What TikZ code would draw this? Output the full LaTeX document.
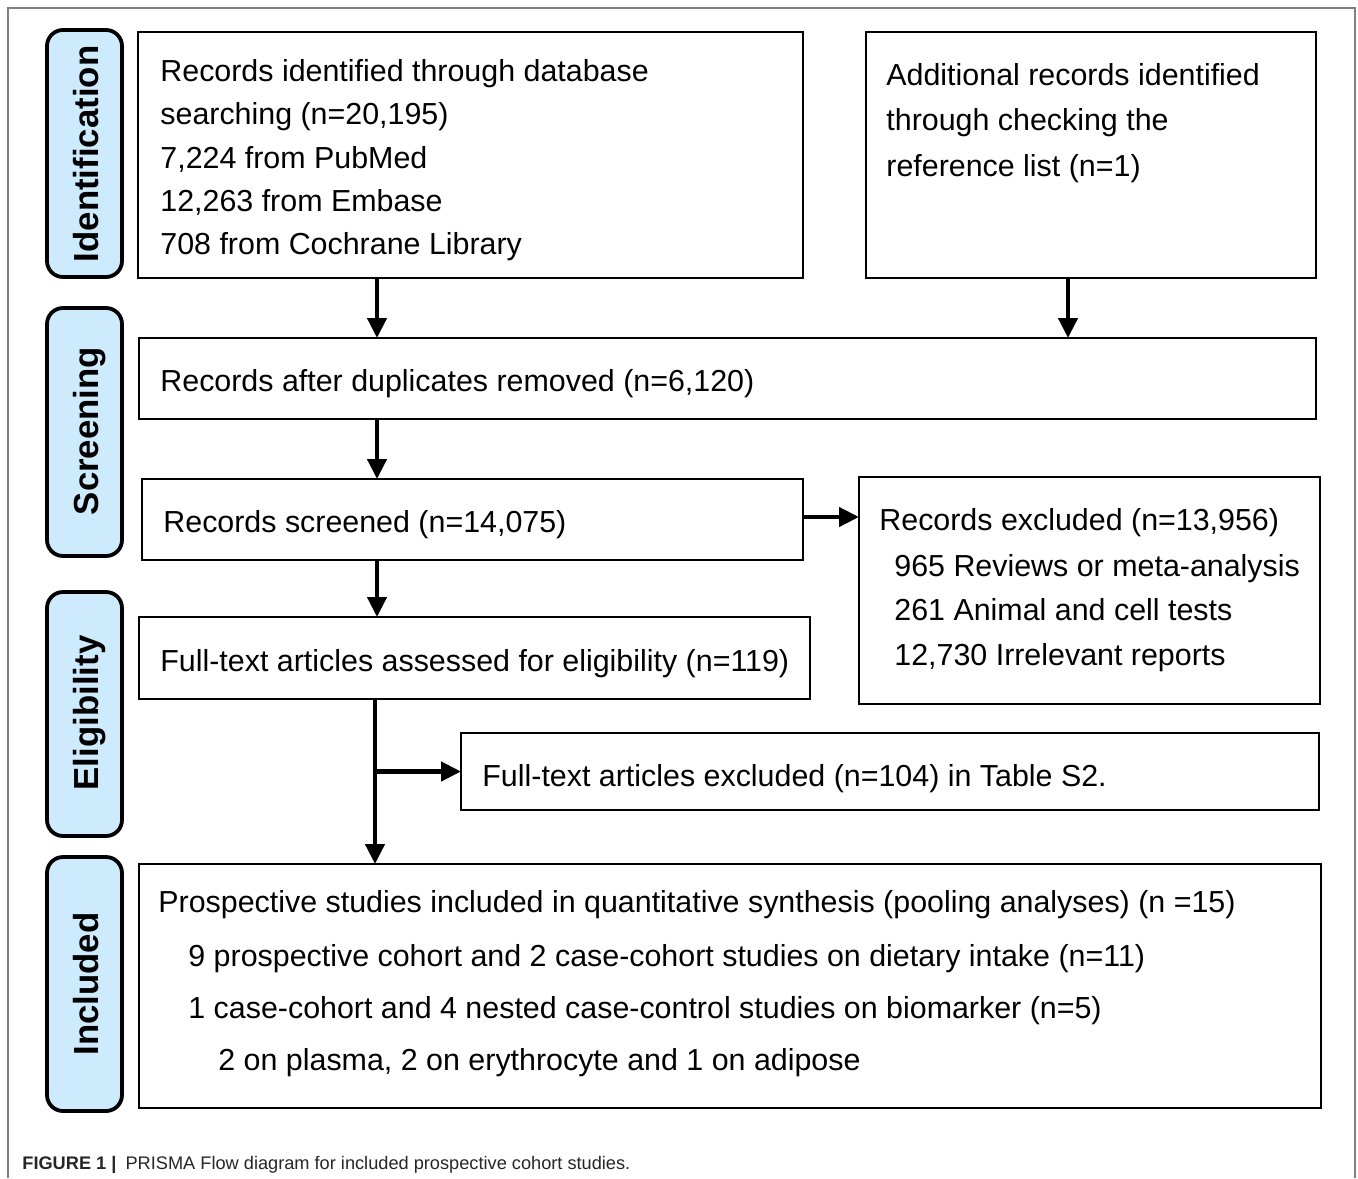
\documentclass[tikz,border=0pt]{standalone}
\usepackage{fontspec}
\setmainfont{Liberation Sans}
\usetikzlibrary{arrows.meta,fit}
\definecolor{stageblue}{RGB}{205,235,252}
\definecolor{framegray}{RGB}{128,128,128}
\tikzset{
  box/.style={draw=black, line width=1.2pt, inner sep=0pt, outer sep=0pt, fill=white},
  stagebox/.style={draw=black, line width=1.9pt, rounded corners=8pt, fill=stageblue, inner sep=0pt, outer sep=0pt},
  stagetxt/.style={rotate=90, anchor=base, inner sep=0pt, font=\bfseries\fontsize{17.4}{20}\selectfont},
  txt/.style={anchor=base west, inner sep=0pt, font=\fontsize{15.2}{18}\selectfont},
  arr/.style={line width=2.2pt, -{Triangle[length=10pt,width=9.5pt]}},
}
\begin{document}
\begin{tikzpicture}[x=0.5pt,y=-0.5pt]
\useasboundingbox (0,0) rectangle (1358,1178);
\draw[framegray, line width=0.8pt] (8,1178) -- (8,8) -- (1355,8) -- (1355,1178);

% stage labels
\node[stagebox, fit={(47,30) (122,277)}] (s1) {};
\node[stagebox, fit={(47,308) (122,556)}] (s2) {};
\node[stagebox, fit={(47,592) (122,836)}] (s3) {};
\node[stagebox, fit={(47,857) (122,1111)}] (s4) {};
\node[stagetxt] (s1t) at (98,154) {Identification};
\node[stagetxt] (s2t) at (98,431) {Screening};
\node[stagetxt] (s3t) at (98,713) {Eligibility};
\node[stagetxt] (s4t) at (98,984) {Included};

% boxes
\node[box, fit={(138,32) (803,278)}] (b1) {};
\node[box, fit={(866,32) (1316,278)}] (b2) {};
\node[box, fit={(139,338) (1316,419)}] (b3) {};
\node[box, fit={(142,479) (803,560)}] (b4) {};
\node[box, fit={(859,477) (1320,704)}] (b5) {};
\node[box, fit={(139,617) (810,699)}] (b6) {};
\node[box, fit={(461,733) (1319,810)}] (b7) {};
\node[box, fit={(139,864) (1321,1108)}] (b8) {};

% texts
\node[txt] (t11) at (160,81) {Records identified through database};
\node[txt] (t12) at (160,124) {searching (n=20,195)};
\node[txt] (t13) at (160,168) {7,224 from PubMed};
\node[txt] (t14) at (160,211) {12,263 from Embase};
\node[txt] (t15) at (160,254) {708 from Cochrane Library};

\node[txt] (t21) at (886,85) {Additional records identified};
\node[txt] (t22) at (886,130) {through checking the};
\node[txt] (t23) at (886,176) {reference list (n=1)};

\node[txt] (t31) at (160,391) {Records after duplicates removed (n=6,120)};

\node[txt] (t41) at (163,532) {Records screened (n=14,075)};

\node[txt] (t51) at (879,530) {Records excluded (n=13,956)};
\node[txt] (t52) at (894,576) {965 Reviews or meta-analysis};
\node[txt] (t53) at (894,620) {261 Animal and cell tests};
\node[txt] (t54) at (894,665) {12,730 Irrelevant reports};

\node[txt] (t61) at (160,671) {Full-text articles assessed for eligibility (n=119)};

\node[txt] (t71) at (482,786) {Full-text articles excluded (n=104) in Table S2.};

\node[txt] (t81) at (158,912) {Prospective studies included in quantitative synthesis (pooling analyses) (n =15)};
\node[txt] (t82) at (188,966) {9 prospective cohort and 2 case-cohort studies on dietary intake (n=11)};
\node[txt] (t83) at (188,1018) {1 case-cohort and 4 nested case-control studies on biomarker (n=5)};
\node[txt] (t84) at (218,1070) {2 on plasma, 2 on erythrocyte and 1 on adipose};

% caption
\node[anchor=base west, inner sep=0pt, text=black!85, font=\fontsize{9.1}{11}\selectfont] (cap) at (22,1169) {\textbf{FIGURE 1 |}\enspace PRISMA Flow diagram for included prospective cohort studies.};

% arrows
\coordinate (xa) at (377,0);
\coordinate (xb) at (1068,0);
\coordinate (xd) at (375,0);
\coordinate (yc) at (0,517);
\draw[arr] (b1.south -| xa) -- (b3.north -| xa);
\draw[arr] (b2.south -| xb) -- (b3.north -| xb);
\draw[arr] (b3.south -| xa) -- (b4.north -| xa);
\draw[arr] (b4.east |- yc) -- (b5.west |- yc);
\draw[arr] (b4.south -| xa) -- (b6.north -| xa);
\draw[arr] (b6.south -| xd) -- (b8.north -| xd);
\draw[arr] (b7.west -| xd) -- (b7.west);
\end{tikzpicture}
\end{document}
